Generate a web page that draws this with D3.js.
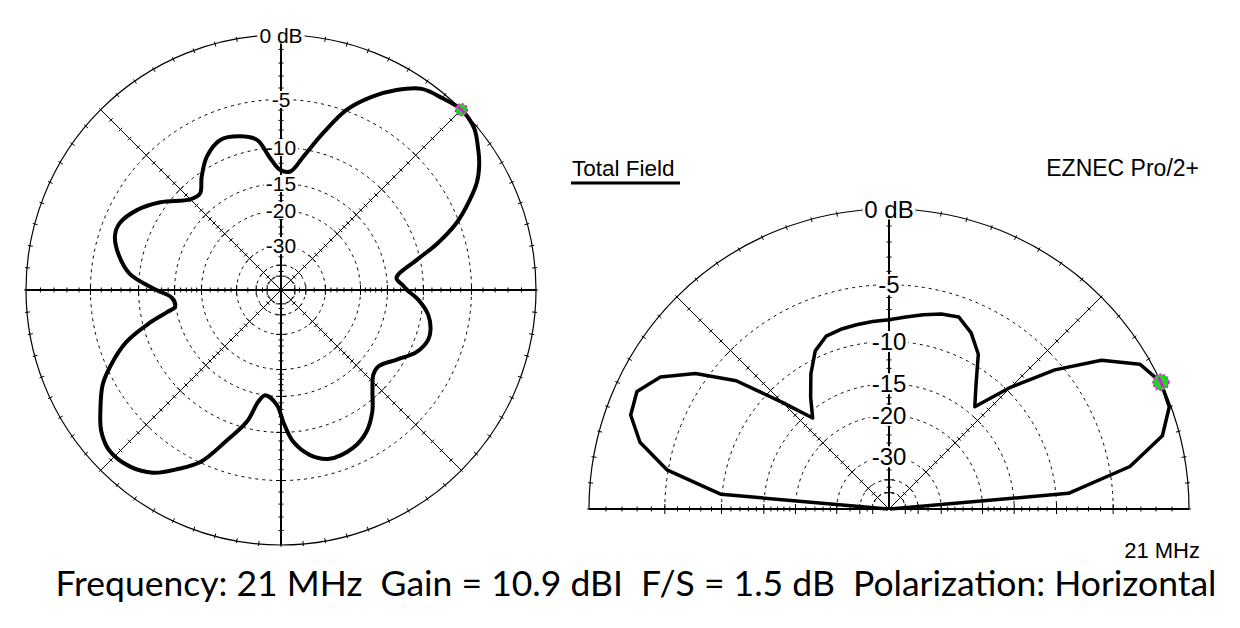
<!DOCTYPE html>
<html>
<head>
<meta charset="utf-8">
<script src="https://cdn.jsdelivr.net/npm/d3@7"></script>
<style>
  body { margin: 0; background: #fff; }
  svg { display: block; }
</style>
</head>
<body>
<svg id="chart"></svg>
<script>
// EZNEC style azimuth + elevation plots

const W = 1240, H = 628;

// ring levels (dB) and the labels shown on the vertical axis
const ringLevels = [-5, -10, -15, -20, -30, -40, -50];
const ringLabels = [-5, -10, -15, -20, -30];
const minorLevels = [-1, -2, -3, -4, -6, -7, -8, -9, -11, -12, -13, -14, -16, -17, -18, -19, -22, -24, -26, -28, -35, -45];

// azimuth pattern, degrees CCW from right, gain dB
const aziAngles = [0, 2, 6, 12.5, 16.5, 21, 25.5, 29, 32.5, 36, 40, 45, 50, 55, 60, 65, 70, 75, 80.5, 85.5,
  90.5, 95, 99, 105, 112, 119, 125, 130, 135, 144, 151, 157.5, 162, 168, 174, 180, 184, 189, 191, 194,
  198.5, 204, 208, 214, 218, 223, 229.5, 235, 240, 245, 250, 255.5, 258.5, 261.5, 268, 271, 274.5, 280, 286, 294.5,
  301, 307, 312, 317.5, 322, 329, 335.5, 341.5, 345.5, 350.5, 356];
const aziGain = [-12.1, -12.6, -13.5, -10.4, -7.7, -5.2, -3.4, -2.2, -1.4, -0.8, -0.2, 0, -0.3, -0.65, -1.7, -3.1, -4.9, -7.75, -10.9, -13.1,
  -12.9, -11.1, -8.9, -8.1, -7.8, -8.8, -10.5, -12.1, -11.8, -9.2, -7.5, -6.5, -6.5, -7.4, -8.9, -12.3, -14.5, -14.85, -13.5, -10.9,
  -7.7, -5.35, -4.0, -2.7, -1.9, -1.4, -1.6, -2.3, -3.6, -5.1, -7.9, -10.8, -13.8, -15.0, -13.65, -11.3, -8.9, -7.2, -6.4, -6.6,
  -7.4, -8.9, -10.7, -12.2, -12.4, -10.9, -9.2, -8.5, -8.6, -9.2, -10.6];
const aziPeak = 45;

// elevation pattern, degrees above right horizon, gain dB (-99 = below floor)
const elevAngles = [0, 5, 10, 15, 20, 25, 30, 35, 40, 45, 50, 55, 60, 65, 70, 75, 80, 85, 90,
  95, 100, 105, 110, 115, 120, 125, 130, 135, 140, 145, 150, 155, 160, 165, 170, 175, 180];
const elevGain = [-99, -8.75, -3.5, -1.0, -0.1, 0, -0.6, -2.5, -5.6, -9.5, -13.9, -11.7, -8.9, -7.45, -6.6, -6.8, -7.2, -7.6, -7.9,
  -8.0, -8.1, -8.2, -8.4, -9.3, -11.2, -13.5, -15.9, -11.8, -7.0, -4.1, -2.2, -1.3, -1.5, -2.6, -4.9, -9.9, -99];
const elevPeak = 25;

const svg = d3.select("#chart").attr("width", W).attr("height", H);
const labelFont = "'Liberation Sans', Arial, sans-serif";

function drawPolar(cx, cy, R, half, fs, curveW, angles, gains, peak, markR) {
  const g = svg.append("g").attr("transform", `translate(${cx},${cy})`);

  // ARRL log scale: every 2 dB shrinks the radius by 0.89
  const logScale = d3.scaleLog().domain([R * Math.pow(0.89, 25), R]).range([-50, 0]);
  const rad = dB => logScale.invert(dB);
  const pt = (deg, r) => [r * Math.cos(deg * Math.PI / 180), -r * Math.sin(deg * Math.PI / 180)];

  // dashed rings
  ringLevels.forEach(L => {
    const r = rad(L);
    if (half) {
      const p = d3.path();
      p.moveTo(-r, 0);
      p.arc(0, 0, r, Math.PI, 2 * Math.PI);
      g.append("path").attr("d", p.toString());
    } else {
      g.append("circle").attr("r", r);
    }
  });
  g.selectAll("circle, path")
    .attr("fill", "none").attr("stroke", "#000").attr("stroke-width", 1)
    .attr("stroke-dasharray", "3,4");

  // radial lines
  const spokes = half ? [0, 45, 90, 135, 180] : [0, 45, 90, 135, 180, 225, 270, 315];
  spokes.forEach(a => {
    const e = pt(a, R);
    g.append("line")
      .attr("x1", 0).attr("y1", 0).attr("x2", e[0]).attr("y2", e[1])
      .attr("stroke", "#000")
      .attr("stroke-width", a % 90 === 0 ? 2 : 1);
    // ticks along the spoke
    const n = [Math.sin(a * Math.PI / 180), Math.cos(a * Math.PI / 180)];
    minorLevels.concat(ringLevels).forEach(L => {
      const p = pt(a, rad(L));
      const h = ringLevels.includes(L) ? 5 : 2.5;
      g.append("line")
        .attr("x1", p[0] - n[0] * h).attr("y1", p[1] - n[1] * h)
        .attr("x2", p[0] + n[0] * h).attr("y2", p[1] + n[1] * h)
        .attr("stroke", "#000").attr("stroke-width", 1);
    });
  });

  // outer circle with 5 degree ticks
  if (half) {
    const p = d3.path();
    p.moveTo(-R, 0);
    p.arc(0, 0, R, Math.PI, 2 * Math.PI);
    g.append("path").attr("d", p.toString()).attr("fill", "none").attr("stroke", "#000").attr("stroke-width", 1.2);
  } else {
    g.append("circle").attr("r", R).attr("fill", "none").attr("stroke", "#000").attr("stroke-width", 1.2);
  }
  for (let a = 0; a < (half ? 181 : 360); a += 5) {
    const p1 = pt(a, R - 3), p2 = pt(a, R + 2);
    g.append("line")
      .attr("x1", p1[0]).attr("y1", p1[1]).attr("x2", p2[0]).attr("y2", p2[1])
      .attr("stroke", "#000").attr("stroke-width", 1);
  }

  // labels on the vertical axis
  const labels = [{ t: "0 dB", y: -R }].concat(ringLabels.map(L => ({ t: String(L), y: -rad(L) })));
  labels.forEach(d => {
    const txt = g.append("text")
      .attr("x", 0).attr("y", d.y)
      .attr("text-anchor", "middle")
      .attr("dominant-baseline", "central")
      .style("font-family", labelFont)
      .style("font-size", fs + "px")
      .text(d.t);
    const bb = txt.node().getBBox();
    g.insert("rect", () => txt.node())
      .attr("x", bb.x - 2).attr("y", bb.y + 3)
      .attr("width", bb.width + 4).attr("height", bb.height - 6)
      .attr("fill", "#fff");
  });

  // pattern
  const data = angles.map((a, i) => ({ a: a, g: gains[i] }));
  const line = d3.lineRadial()
    .angle(d => (90 - d.a) * Math.PI / 180)
    .radius(d => rad(d.g))
    .curve(half ? d3.curveLinear : d3.curveCatmullRomClosed.alpha(0.5));
  g.append("path")
    .datum(data)
    .attr("d", line)
    .attr("fill", "none")
    .attr("stroke", "#000")
    .attr("stroke-width", curveW)
    .attr("stroke-linejoin", "round");

  // max gain marker
  const m = pt(peak, R);
  g.append("circle").attr("cx", m[0]).attr("cy", m[1]).attr("r", markR)
    .attr("fill", "#1ed21e").attr("stroke", "#ff00ff").attr("stroke-width", 1.5)
    .attr("stroke-dasharray", "2,2");
  const d1 = pt(peak + 90, markR * 0.7);
  g.append("line")
    .attr("x1", m[0] - d1[0]).attr("y1", m[1] - d1[1])
    .attr("x2", m[0] + d1[0]).attr("y2", m[1] + d1[1])
    .attr("stroke", "#ff00ff").attr("stroke-width", 2.5);
}

drawPolar(281, 290, 255, false, 21, 4, aziAngles, aziGain, aziPeak, 6);
drawPolar(889, 509, 300, true, 24, 3.5, elevAngles, elevGain, elevPeak, 8);

// header texts
svg.append("text")
  .attr("x", 572).attr("y", 176)
  .style("font-family", labelFont).style("font-size", "22.5px")
  .text("Total Field");
svg.append("line")
  .attr("x1", 571).attr("x2", 680).attr("y1", 183).attr("y2", 183)
  .attr("stroke", "#000").attr("stroke-width", 3);

svg.append("text")
  .attr("x", 1199).attr("y", 176)
  .attr("text-anchor", "end")
  .style("font-family", labelFont).style("font-size", "23px")
  .text("EZNEC Pro/2+");

svg.append("text")
  .attr("x", 1200).attr("y", 558)
  .attr("text-anchor", "end")
  .style("font-family", labelFont).style("font-size", "22px")
  .text("21 MHz");

// caption
svg.append("text")
  .attr("x", 636).attr("y", 596)
  .attr("text-anchor", "middle")
  .style("white-space", "pre")
  .style("font-family", "Lato, 'Noto Sans', sans-serif")
  .style("font-size", "35.5px")
  .text("Frequency: 21 MHz  Gain = 10.9 dBI  F/S = 1.5 dB  Polarization: Horizontal");
</script>
</body>
</html>
